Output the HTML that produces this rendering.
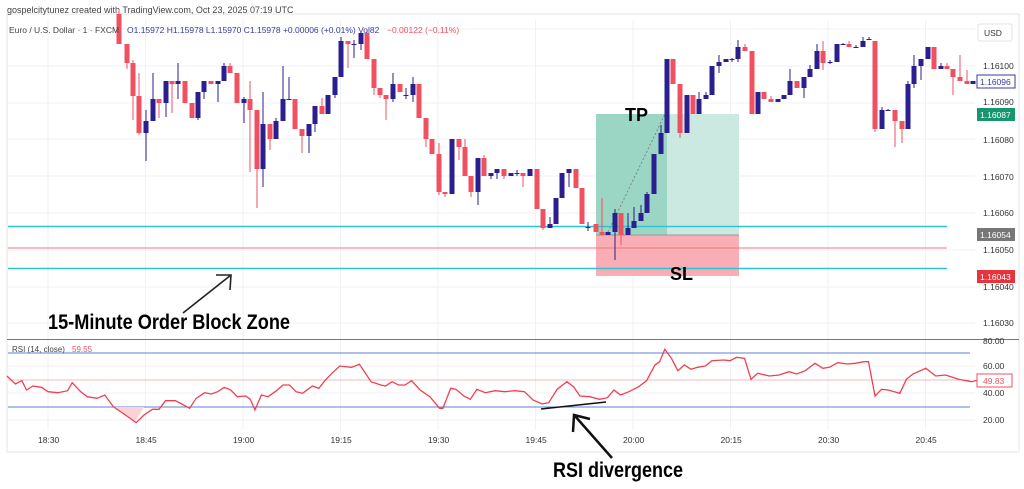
<!DOCTYPE html>
<html><head><meta charset="utf-8"><style>
body{margin:0;background:#fff;width:1024px;height:489px;overflow:hidden}
svg{display:block}
</style></head><body>
<svg id="s" width="1024" height="489" xmlns="http://www.w3.org/2000/svg" font-family="Liberation Sans, sans-serif">
<rect width="1024" height="489" fill="#fff"/>
<rect x="7" y="14" width="1012" height="438" fill="#fff" stroke="#e6e6e6"/>
<g id="grid" stroke="#f0f2f5" stroke-width="1"></g>
<text x="7" y="13" font-size="9" fill="#444">gospelcitytunez created with TradingView.com, Oct 23, 2025 07:19 UTC</text>
<!-- trade boxes -->
<rect x="596" y="114" width="71" height="121" fill="#8fd1bd" opacity="0.9"/>
<rect x="667" y="114" width="72" height="121" fill="#cbe9e1"/>
<rect x="596" y="235" width="143" height="41" fill="#f9aeb5"/>
<line x1="596" y1="235" x2="739" y2="235" stroke="#999" stroke-width="1"/>
<line x1="608" y1="232" x2="665" y2="114" stroke="#7a8a85" stroke-dasharray="2,2"/>
<line x1="8" y1="226.5" x2="947" y2="226.5" stroke="#2ec4d6" stroke-width="1.6"/>
<line x1="8" y1="268.5" x2="947" y2="268.5" stroke="#2ec4d6" stroke-width="1.6"/>
<line x1="8" y1="248" x2="947" y2="248" stroke="#f07a80" stroke-width="1"/>
<g id="c"></g>
<text x="9" y="33" font-size="8.5" fill="#444">Euro / U.S. Dollar · 1 · FXCM</text>
<text x="127" y="33" font-size="8.5" fill="#3a3aa0">O1.15972  H1.15978  L1.15970  C1.15978  +0.00006 (+0.01%)  Vol82</text>
<text x="387" y="33" font-size="8.5" fill="#f05060">−0.00122 (−0.11%)</text>
<text x="625" y="121" font-size="18" font-weight="bold" fill="#000" font-family="Liberation Sans Narrow, Liberation Sans, sans-serif">TP</text>
<text x="670" y="280" font-size="18" font-weight="bold" fill="#000" font-family="Liberation Sans Narrow, Liberation Sans, sans-serif">SL</text>
<text x="48" y="329" font-size="21" font-weight="bold" fill="#000" textLength="242" lengthAdjust="spacingAndGlyphs" font-family="Liberation Sans Narrow, Liberation Sans, sans-serif">15-Minute Order Block Zone</text>
<line x1="183" y1="313" x2="231" y2="275" stroke="#222" stroke-width="1.6"/>
<polyline points="216,275 231,275 230,290" fill="none" stroke="#222" stroke-width="1.6"/>
<!-- price axis -->
<rect x="978" y="24" width="34" height="17" rx="2" fill="#fff" stroke="#e3e3e3"/>
<text x="984" y="36" font-size="8.5" fill="#333">USD</text>
<g id="pa" font-size="8.5" fill="#333"></g>
<rect x="977" y="75" width="38" height="13" fill="#fff" stroke="#3a3aa0"/>
<text x="980" y="85" font-size="8.5" fill="#3a3aa0">1.16096</text>
<rect x="977" y="108" width="38" height="13" fill="#14966e"/>
<text x="980" y="118" font-size="8.5" fill="#fff">1.16087</text>
<rect x="977" y="228" width="38" height="13" fill="#777"/>
<text x="980" y="238" font-size="8.5" fill="#fff">1.16054</text>
<rect x="977" y="270" width="38" height="13" fill="#e8323c"/>
<text x="980" y="280" font-size="8.5" fill="#fff">1.16043</text>
<!-- RSI -->
<line x1="7" y1="339.5" x2="1019" y2="339.5" stroke="#777" stroke-width="1"/>
<line x1="8" y1="353" x2="970" y2="353" stroke="#5b7fd6" stroke-width="1"/>
<line x1="8" y1="407" x2="970" y2="407" stroke="#5b7fd6" stroke-width="1"/>
<line x1="8" y1="380" x2="970" y2="380" stroke="#f3b9bd" stroke-width="1"/>
<g id="r"></g>
<text x="12" y="352" font-size="8" fill="#444">RSI (14, close)</text>
<text x="72" y="352" font-size="8" fill="#f05060">59.55</text>
<text x="983" y="344" font-size="8.5" fill="#333">80.00</text>
<text x="983" y="369" font-size="8.5" fill="#333">60.00</text>
<text x="983" y="396" font-size="8.5" fill="#333">40.00</text>
<text x="983" y="423" font-size="8.5" fill="#333">20.00</text>
<rect x="977" y="374" width="35" height="13" fill="#fff" stroke="#f05060"/>
<text x="983" y="384" font-size="8.5" fill="#f05060">49.83</text>
<g id="t" font-size="8.5" fill="#333"></g>
<line x1="541" y1="409" x2="606" y2="402" stroke="#111" stroke-width="1.6"/>
<line x1="612" y1="458" x2="575" y2="416" stroke="#111" stroke-width="2.5"/>
<polyline points="573,432 574,415 590,419" fill="none" stroke="#111" stroke-width="2.5"/>
<text x="553" y="477" font-size="21" font-weight="bold" fill="#000" textLength="130" lengthAdjust="spacingAndGlyphs" font-family="Liberation Sans Narrow, Liberation Sans, sans-serif">RSI divergence</text>
</svg>
<script>
var NS="http://www.w3.org/2000/svg";
function el(p,t,a){var e=document.createElementNS(NS,t);for(var k in a)e.setAttribute(k,a[k]);p.appendChild(e);return e;}
var g=document.getElementById('grid');
[29,66,103,139,176,213,250,287,323].forEach(function(y){el(g,'line',{x1:8,x2:975,y1:y,y2:y});});
[366,393,420].forEach(function(y){el(g,'line',{x1:8,x2:975,y1:y,y2:y});});
var times=["18:30","18:45","19:00","19:15","19:30","19:45","20:00","20:15","20:30","20:45"];
var tg=document.getElementById('t');
times.forEach(function(s,i){var x=48+i*97.5;el(g,'line',{x1:x,x2:x,y1:20,y2:430});var t=el(tg,'text',{x:x-10,y:443});t.textContent=s;});
var pa=document.getElementById('pa');
[["1.16100",66],["1.16090",102],["1.16080",140],["1.16070",177],["1.16060",213],["1.16050",250],["1.16040",287],["1.16030",323]].forEach(function(p){var t=el(pa,'text',{x:983,y:p[1]+3});t.textContent=p[0];});
// candles: x, y1, y2, wickTop, wickBottom, color
var C=[
[119,14,44,10,44,'r'],[127,44,63,44,69,'r'],[133,63,96,60,120,'r'],[139,96,133,73,135,'r'],[146,121,133,110,161,'b'],[153,99,121,73,121,'b'],[159,99,103,99,118,'r'],[166,81,103,81,117,'b'],[172,81,84,81,113,'r'],[178,81,84,63,99,'b'],[185,81,103,81,103,'r'],[192,103,118,103,118,'r'],[198,92,118,92,120,'b'],[204,81,92,81,99,'b'],[211,81,84,81,84,'r'],[218,81,84,81,102,'b'],[224,66,81,63,81,'b'],[230,66,73,63,73,'r'],[237,73,103,73,103,'r'],[244,99,103,97,123,'b'],[250,99,110,81,172,'r'],[257,110,169,110,208,'r'],[263,124,169,92,187,'b'],[270,124,139,124,150,'r'],[276,121,139,118,139,'b'],[283,99,121,66,121,'b'],[289,99,100,77,99,'b'],[295,99,129,99,129,'r'],[302,129,136,129,153,'r'],[309,124,136,124,153,'b'],[315,106,124,106,132,'b'],[322,106,114,98,114,'r'],[328,95,114,95,114,'b'],[335,77,95,77,98,'b'],[341,41,77,37,77,'b'],[348,41,44,41,68,'r'],[354,44,45,40,58,'b'],[361,33,44,33,50,'b'],[367,33,59,30,59,'r'],[374,59,88,59,95,'r'],[380,88,95,88,98,'r'],[386,95,99,95,120,'r'],[393,84,99,73,102,'b'],[400,84,92,84,92,'r'],[406,95,96,88,99,'b'],[413,84,95,77,102,'b'],[419,84,118,84,118,'r'],[426,118,139,118,147,'r'],[432,139,154,139,154,'r'],[439,154,192,143,195,'r'],[445,192,194,192,197,'r'],[452,139,194,139,194,'b'],[459,139,147,139,160,'r'],[465,147,176,139,176,'r'],[471,176,192,176,197,'r'],[478,158,192,158,205,'b'],[484,158,176,155,176,'r'],[491,173,176,173,179,'b'],[497,169,173,169,179,'b'],[504,169,176,169,179,'r'],[511,173,176,173,176,'b'],[517,173,174,170,176,'b'],[523,173,176,173,187,'r'],[530,169,176,169,176,'b'],[537,169,209,169,209,'r'],[543,209,228,209,230,'r'],[550,224,228,217,228,'b'],[556,198,224,198,224,'b'],[562,173,198,173,198,'b'],[569,169,173,169,187,'b'],[576,169,188,169,188,'r'],[582,188,224,188,224,'r'],[588,227,228,222,231,'b'],[596,224,232,224,232,'r'],[602,232,235,198,235,'r'],[608,232,235,232,235,'b'],[615,213,232,209,260,'b'],[621,213,235,213,245,'r'],[628,228,235,213,235,'b'],[634,221,228,207,228,'b'],[641,213,221,205,221,'b'],[647,194,213,192,213,'b'],[654,154,194,154,194,'b'],[661,133,154,125,154,'b'],[667,59,133,59,133,'b'],[673,59,84,59,84,'r'],[680,84,133,84,138,'r'],[687,95,133,95,133,'b'],[693,95,114,95,114,'r'],[699,99,114,92,114,'b'],[706,95,99,92,99,'b'],[712,66,95,66,95,'b'],[719,62,66,55,73,'b'],[726,59,62,59,62,'b'],[732,59,60,58,62,'b'],[738,47,59,40,62,'b'],[745,47,51,44,51,'r'],[752,51,114,51,114,'r'],[758,92,114,92,114,'b'],[764,92,99,92,99,'r'],[771,99,102,96,102,'r'],[778,99,102,99,102,'b'],[784,95,99,95,99,'b'],[790,81,95,69,95,'b'],[797,81,88,81,88,'r'],[804,77,88,77,98,'b'],[810,69,77,65,77,'b'],[817,51,69,44,69,'b'],[823,51,63,41,70,'r'],[830,62,63,60,64,'b'],[837,44,62,44,62,'b'],[843,44,45,43,45,'b'],[849,44,47,41,47,'r'],[856,47,48,45,48,'b'],[863,41,47,37,47,'b'],[869,39,40,37,40,'b'],[875,41,129,41,132,'r'],[882,110,129,107,129,'b'],[888,110,111,109,111,'b'],[895,110,121,110,147,'r'],[902,121,129,121,143,'r'],[908,84,129,81,129,'b'],[914,66,84,55,88,'b'],[921,59,66,59,80,'b'],[928,47,59,47,59,'b'],[934,47,69,47,69,'r'],[941,66,69,63,69,'b'],[947,66,69,63,69,'r'],[953,69,77,69,95,'r'],[960,77,81,55,81,'r'],[967,81,84,70,84,'r'],[973,81,84,81,84,'b']];
var cg=document.getElementById('c');
C.forEach(function(d){var col=d[5]=='b'?'#2b1f8f':'#f0505f';
el(cg,'line',{x1:d[0],x2:d[0],y1:d[3],y2:d[4],stroke:col,'stroke-width':1});
el(cg,'rect',{x:d[0]-2.5,y:d[1],width:5,height:Math.max(1,d[2]-d[1]),fill:col});});
var P=[[12,138],[25,162],[35,152],[42,180],[52,168],[65,172],[75,185],[90,188],[105,182],[112,158],[125,185],[135,200],[150,205],[162,195],[175,230],[190,250],[210,278],[222,255],[235,238],[245,238],[255,212],[270,212],[280,222],[292,235],[302,205],[315,188],[325,192],[335,185],[345,172],[355,180],[365,200],[378,198],[385,208],[392,240],[402,195],[412,200],[425,182],[435,165],[445,165],[455,185],[465,190],[480,168],[490,175],[500,150],[510,130],[522,108],[540,112],[552,103],[570,155],[585,165],[592,168],[602,155],[612,165],[622,165],[632,152],[645,180],[660,200],[675,235],[680,235],[692,175],[700,178],[712,198],[722,208],[732,178],[745,188],[760,182],[775,185],[790,182],[805,185],[818,210],[832,222],[842,218],[855,178],[870,155],[880,170],[890,198],[905,200],[920,208],[932,203],[942,180],[952,195],[965,185],[980,170],[992,152],[1005,105],[1012,95],[1020,58],[1030,85],[1040,122],[1050,105],[1060,118],[1070,112],[1082,108],[1092,92],[1110,90],[1120,92],[1130,82],[1142,85],[1152,148],[1162,130],[1180,138],[1195,135],[1210,125],[1222,132],[1235,122],[1250,100],[1262,115],[1272,112],[1285,98],[1300,102],[1312,100],[1325,95],[1332,95],[1342,198],[1352,178],[1362,180],[1380,190],[1390,148],[1400,132],[1420,115],[1435,138],[1450,135],[1470,148],[1490,155],[1500,150]];
var pts=P.map(function(p){return (48+(p[0]-75)/1.532).toFixed(1)+','+(330+p[1]/3).toFixed(1);});
var rg=document.getElementById('r');
el(rg,'polygon',{points:'115,407 126,414 135,422 144,407',fill:'#fbd3d6'});
el(rg,'polyline',{points:pts.join(' '),fill:'none',stroke:'#f04050','stroke-width':1.3});
</script>
</body></html>
